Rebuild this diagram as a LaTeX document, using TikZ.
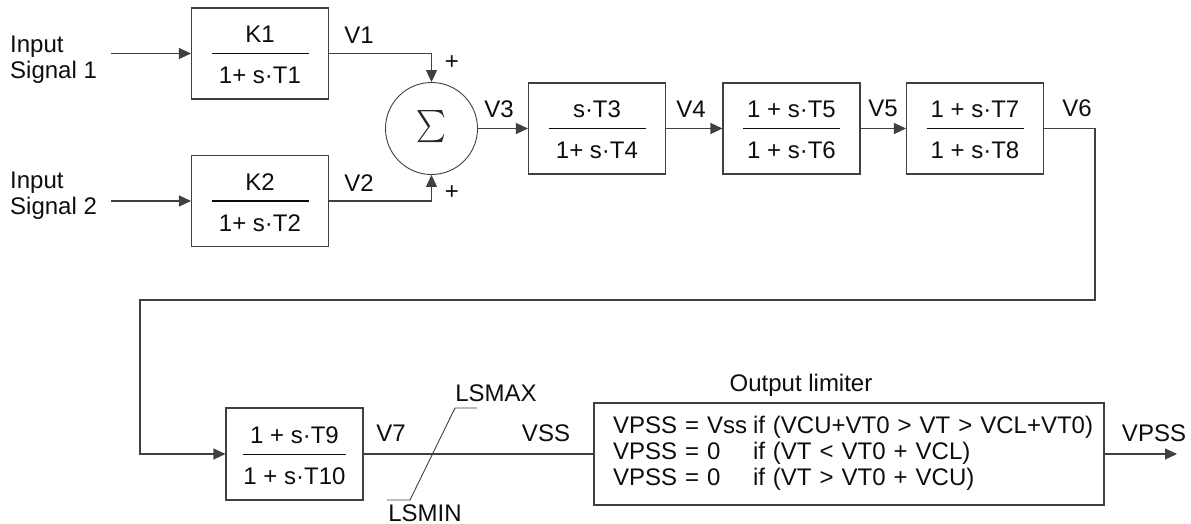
\documentclass[tikz,border=0pt]{standalone}
\usepackage{fontspec}
\setmainfont{Liberation Sans}
\usetikzlibrary{arrows.meta, positioning, calc}

% transfer function inside a block: numerator, bar, denominator
\newcommand{\blockfrac}[2]{%
  \setlength{\arrayrulewidth}{1pt}%
  \begin{tabular}{@{}c@{}}
    \rule[-10pt]{0pt}{38pt}\makebox[97pt]{#1}\\ \hline
    \rule[-8pt]{0pt}{38pt}#2
  \end{tabular}}

\begin{document}
\begin{tikzpicture}[
  x=1pt, y=-1pt,
  >={Triangle[length=12pt,width=11pt]},
  font=\fontsize{24}{26}\selectfont,
  block/.style={draw=black!75, line width=1.1pt, minimum width=137pt, minimum height=91pt, inner sep=0pt, text=black!95},
  sumnode/.style={circle, draw=black!75, line width=0.9pt, minimum size=92pt, inner sep=0pt, text=black!85},
  wire/.style={line width=1.1pt, draw=black!75},
  arrow/.style={wire, ->},
  lbl/.style={inner sep=0pt, text=black!95}
]
  \useasboundingbox (0,0) rectangle (1191,524);

  % inputs and lead-lag stages ================================
  \node[lbl, anchor=west, align=left] (in1) at (10,60) {Input\\Signal 1};
  \node[lbl, anchor=west, align=left] (in2) at (10,196) {Input\\Signal 2};

  \node[block] (k1) at (260,53.5) {\blockfrac{K1}{1+ s·T1}};
  \node[block] (k2) at (260,201) {\blockfrac{K2}{1+ s·T2}};
  \node[sumnode] (sum) at (431.5,128.5) {\resizebox{30pt}{36pt}{$\sum$}};

  \node[block] (tf34) at (597,128.5) {\blockfrac{s·T3}{1+ s·T4}};
  \node[block] (tf56) at (791.5,128.5) {\blockfrac{1 + s·T5}{1 + s·T6}};
  \node[block] (tf78) at (975,128.5) {\blockfrac{1 + s·T7}{1 + s·T8}};

  \node[block, minimum height=92pt] (tf910) at (294.5,454) {\blockfrac{1 + s·T9}{1 + s·T10}};

  % Output limiter
  \node[block, minimum width=510pt, minimum height=102pt, text width=472pt, inner xsep=19pt, align=left] (lim) at (849,454) {%
    \begin{tabular}{@{}p{140pt}@{}l@{}}
      VPSS = Vss & if (VCU+VT0 > VT > VCL+VT0)\\
      VPSS = 0   & if (VT < VT0 + VCL)\\
      VPSS = 0   & if (VT > VT0 + VCU)
    \end{tabular}};
  \node[lbl] (limtitle) at (801,385) {Output limiter};

  % signal labels
  \node[lbl] (v1) at (359,35) {V1};
  \node[lbl] (v2) at (359,183) {V2};
  \node[lbl] (plus1) at (452,63) {+};
  \node[lbl] (plus2) at (452,193) {+};
  \node[lbl] (v3) at (499,109) {V3};
  \node[lbl] (v4) at (691,109) {V4};
  \node[lbl] (v5) at (883,108) {V5};
  \node[lbl] (v6) at (1077,108) {V6};
  \node[lbl] (v7) at (391,433) {V7};
  \node[lbl] (vss) at (546,433) {VSS};
  \node[lbl] (vpss) at (1154,433) {VPSS};
  \node[lbl] (lsmaxlbl) at (496,393) {LSMAX};
  \node[lbl] (lsminlbl) at (425,513) {LSMIN};

  \coordinate (r1) at (1095,300);
  \coordinate (r2) at (140,300);
  \coordinate (lsmin) at (410,500);
  \coordinate (lsmax) at (455,408);
  \coordinate (out) at (1177,454);

  % Flux principal
  \draw[arrow] ([xshift=14pt]in1.east |- k1.west) -- (k1.west);
  \draw[arrow] ([xshift=14pt]in2.east |- k2.west) -- (k2.west);
  \draw[arrow] (k1.east) -| (sum.north);
  \draw[arrow] (k2.east) -| (sum.south);
  \draw[arrow] (sum.east) -- (tf34.west);
  \draw[arrow] (tf34.east) -- (tf56.west);
  \draw[arrow] (tf56.east) -- (tf78.west);
  \draw[arrow] (tf78.east) -| (r1) -- (r2) |- (tf910.west);
  \draw[wire] (tf910.east) -- (lim.west);
  \draw[arrow] (lim.east) -- (out);

  % limiter symbol
  \draw[wire, line width=0.9pt] ([xshift=-23pt]lsmin) -- (lsmin) -- (lsmax) -- ([xshift=22pt]lsmax);

\end{tikzpicture}
\end{document}
